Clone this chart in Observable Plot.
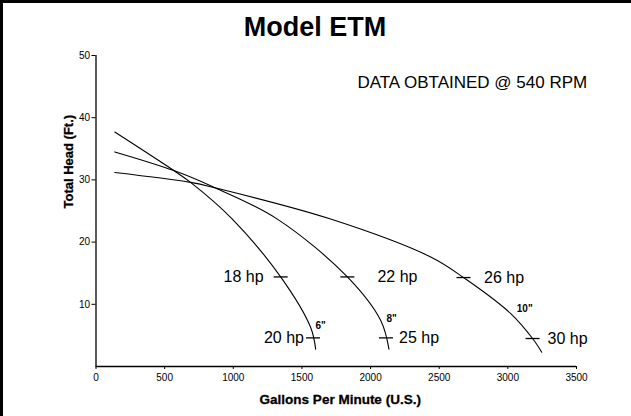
<!DOCTYPE html>
<html>
<head>
<meta charset="utf-8">
<script src="https://cdn.jsdelivr.net/npm/d3@7"></script>
<script src="https://cdn.jsdelivr.net/npm/@observablehq/plot@0.6"></script>
<style>
  html, body { margin: 0; padding: 0; background: #fff; }
  #wrap { position: relative; width: 631px; height: 416px; overflow: hidden; background: #fff; font-family: "Liberation Sans", Arial, sans-serif; }
  #title { position: absolute; left: 0; width: 630px; top: 14px; text-align: center; font-size: 27px; line-height: 27px; font-weight: bold; color: #000; z-index: 2; }
  #frameTop { position: absolute; left: 0; top: 0; width: 631px; height: 3px; background: #000; z-index: 3; }
  #frameLeft { position: absolute; left: 0; top: 0; width: 3px; height: 416px; background: #000; z-index: 3; }
  #chart { position: absolute; left: 0; top: 0; }
</style>
</head>
<body>
<div id="wrap">
  <div id="frameTop"></div>
  <div id="frameLeft"></div>
  <div id="title">Model ETM</div>
  <div id="chart"></div>
</div>
<script>
// ---- data ----
const xTicks = [0, 500, 1000, 1500, 2000, 2500, 3000, 3500];
const yTicks = [10, 20, 30, 40, 50];

// 6" impeller curve (gpm, ft)
const flow6 = [137, 567, 689, 993, 1345, 1563, 1600];
const head6 = [37.7, 31.5, 29.6, 23.7, 14.4, 6.3, 2.8];
// 8" impeller curve
const flow8 = [137, 567, 871, 1321, 1831, 2074, 2134];
const head8 = [34.5, 31.5, 28.7, 23.7, 14.4, 7.4, 2.8];
// 10" impeller curve
const flow10 = [137, 689, 871, 1709, 2438, 2677, 3021, 3180, 3247];
const head10 = [31.2, 29.6, 28.7, 23.7, 17.6, 14.3, 8.5, 4.5, 2.3];

// horsepower marks on the curves
const hpText = ["18 hp", "22 hp", "26 hp", "20 hp", "25 hp", "30 hp"];
const hpFlow = [1345, 1831, 2677, 1581, 2112, 3180];
const hpHead = [14.4, 14.4, 14.3, 4.6, 4.6, 4.5];
const hpLabelFlow = [1221, 2050, 2827, 1515, 2207, 3289];
const hpSide = ["left", "right", "right", "left", "right", "right"];

// impeller size labels
const sizeText = ['6"', '8"', '10"'];
const sizeFlow = [1636, 2154, 3123];
const sizeHead = [6.6, 7.6, 9.2];

const note = "DATA OBTAINED @ 540 RPM";
const xTitle = "Gallons Per Minute (U.S.)";
const yTitle = "Total Head (Ft.)";

// ---- build tables ----
const curves = [
  ...flow6.map((f, i) => ({size: '6"', gpm: f, head: head6[i]})),
  ...flow8.map((f, i) => ({size: '8"', gpm: f, head: head8[i]})),
  ...flow10.map((f, i) => ({size: '10"', gpm: f, head: head10[i]}))
];
const hp = hpText.map((t, i) => ({text: t, gpm: hpFlow[i], head: hpHead[i], lx: hpLabelFlow[i], side: hpSide[i]}));
const sizes = sizeText.map((t, i) => ({text: t, gpm: sizeFlow[i], head: sizeHead[i]}));

const dash = { draw(context) { context.moveTo(-7, 0); context.lineTo(7, 0); } };
const font = "Liberation Sans, Arial, sans-serif";

const chart = Plot.plot({
  width: 631,
  height: 416,
  marginLeft: 95.5,
  marginRight: 55,
  marginTop: 55,
  marginBottom: 50,
  style: {fontFamily: font, background: "transparent", color: "#000"},
  x: {domain: [0, 3500], label: null},
  y: {domain: [0, 50], label: null},
  marks: [
    Plot.axisX({ticks: xTicks, tickSize: 3, tickPadding: 4, fontSize: 10, label: null, tickFormat: d => String(d)}),
    Plot.axisY({ticks: yTicks, tickSize: 4, tickPadding: 2, fontSize: 10, label: null}),
    Plot.ruleX([0], {stroke: "#000", strokeWidth: 1.3}),
    Plot.ruleY([0], {stroke: "#000", strokeWidth: 1.3}),
    Plot.line(curves, {x: "gpm", y: "head", z: "size", curve: "catmull-rom", stroke: "#000", strokeWidth: 1.1}),
    Plot.dot(hp, {x: "gpm", y: "head", symbol: dash, stroke: "#000", strokeWidth: 1.3, fill: "none"}),
    Plot.text(hp, {filter: d => d.side === "left", x: "lx", y: "head", text: "text", textAnchor: "end", fontSize: 16, fill: "#000"}),
    Plot.text(hp, {filter: d => d.side === "right", x: "lx", y: "head", text: "text", textAnchor: "start", fontSize: 16, fill: "#000"}),
    Plot.text(sizes, {x: "gpm", y: "head", text: "text", fontSize: 10, fontWeight: "bold", fill: "#000"}),
    Plot.text([note], {frameAnchor: "top-right", dx: 10.7, dy: 26.7, textAnchor: "end", lineAnchor: "middle", fontSize: 17, fill: "#000"}),
    Plot.text([xTitle], {frameAnchor: "bottom", dx: 4, dy: 33, lineAnchor: "middle", fontSize: 13.5, fontWeight: "bold", fill: "#000", stroke: "#000", strokeWidth: 0.3, style: "letter-spacing:0.5px"}),
    Plot.text([yTitle], {frameAnchor: "left", dx: -27.5, dy: -2.5, rotate: -90, lineAnchor: "middle", fontSize: 13, fontWeight: "bold", fill: "#000", stroke: "#000", strokeWidth: 0.3})
  ]
});
document.getElementById("chart").appendChild(chart);
</script>
</body>
</html>
